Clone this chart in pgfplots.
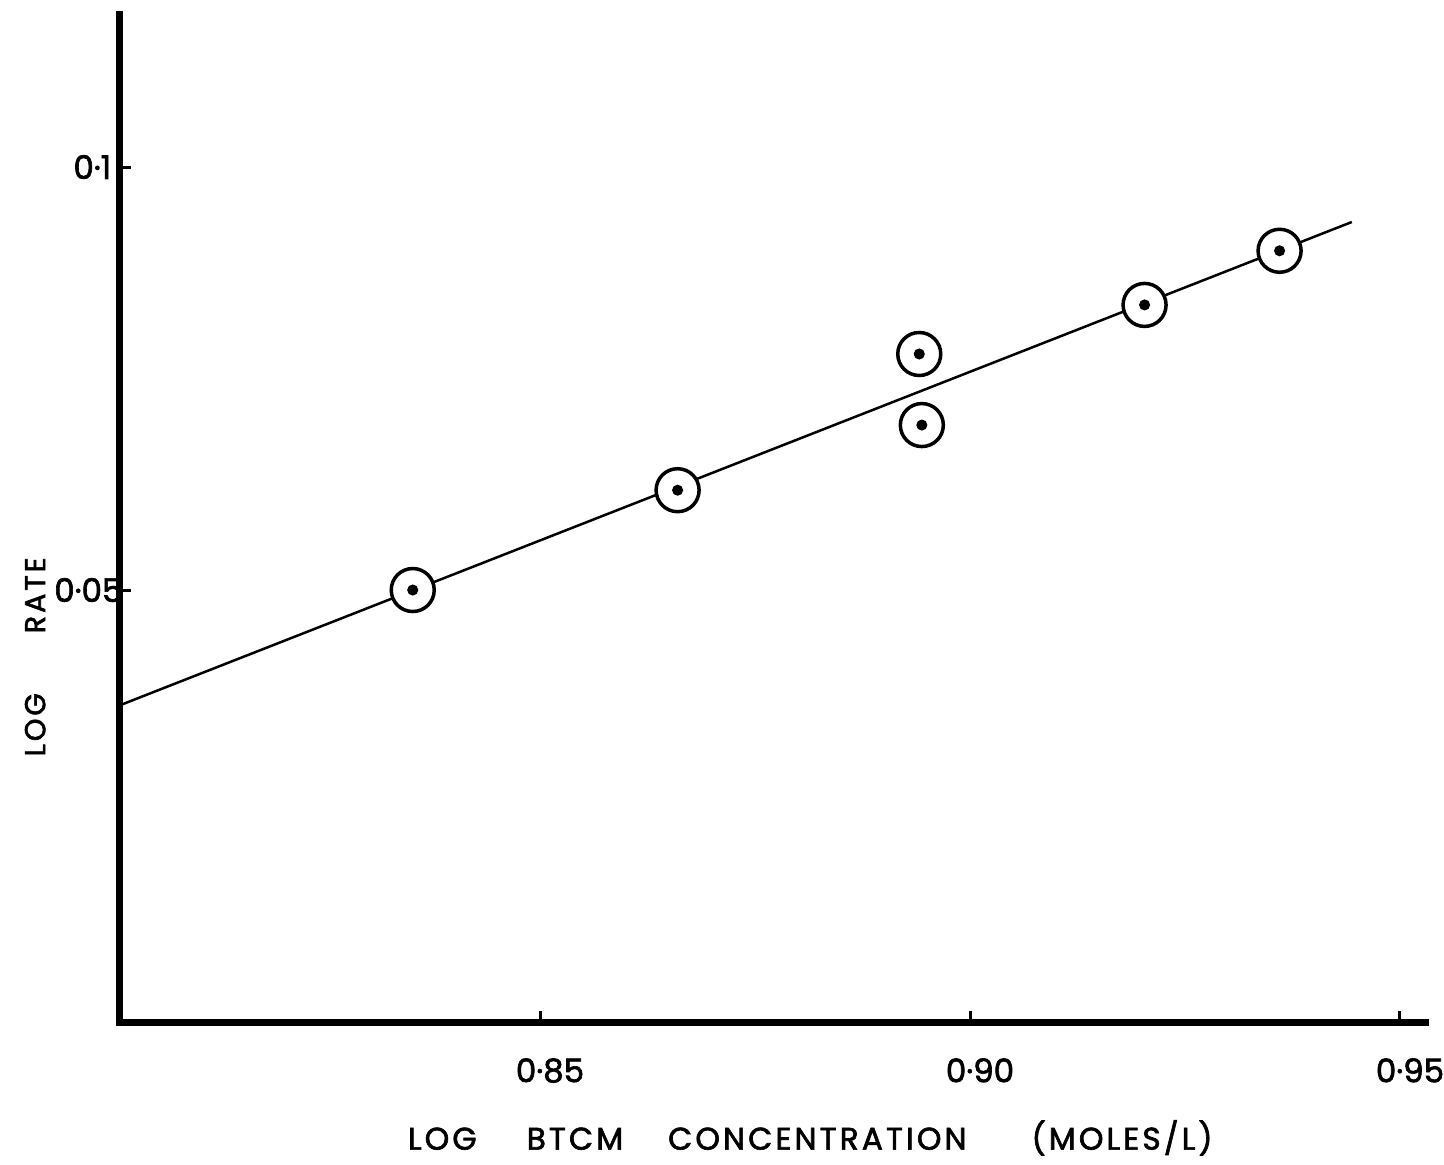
\documentclass[border=0pt]{standalone}
\usepackage{fontspec}
\setmainfont{Poppins}
\newfontfamily\spaced[LetterSpace=10,FakeBold=2]{Poppins}
\newfontfamily\tickfont[FakeBold=2]{Poppins}
\usepackage{pgfplots}
\pgfplotsset{compat=1.18}
\begin{document}
\begin{tikzpicture}
\useasboundingbox (-48pt,-56.8pt) rectangle (529.6pt,408.8pt);
\begin{axis}[
  scale only axis, width=522pt, height=402.8pt,
  xmin=0.80116, xmax=0.95291, ymin=-0.00106, ymax=0.11797,
  axis x line=bottom, axis y line=left,
  axis line style={-, line width=2.8pt, line cap=rect},
  xtick={0.85,0.90,0.95}, xticklabels={0·85, 0·90, 0·95},
  ytick={0.05,0.1}, yticklabels={0·05\hbox{\kern-1.5pt}, 0·1\hbox to 3pt{}},
  tick align=inside, major tick length=4.5pt,
  tick style={line width=1.2pt, black},
  ticklabel style={font=\tickfont\fontsize{13}{15}\selectfont},
  x tick label style={yshift=-11pt, xshift=4pt},
  y tick label style={xshift=3pt},
  xlabel={\spaced LOG\hspace{20pt}BTCM\hspace{18pt}CONCENTRATION\hspace{26pt}(MOLES/L)},
  xlabel style={at={(axis description cs:0.529,-0.115)}, anchor=center, font=\fontsize{12.5}{14}\selectfont},
  ylabel={\spaced LOG\hspace{24pt}RATE},
  ylabel style={at={(axis description cs:-0.065,0.3625)}, anchor=center, font=\fontsize{11.5}{13}\selectfont},
  clip=false,
]
\addplot[black, line width=1pt] coordinates {(0.8012,0.0364) (0.9444,0.0935)};
\addplot[only marks, mark=*, mark size=8.6pt, mark options={draw=black, fill=white, line width=1.4pt}] coordinates {
(0.8352,0.0500) (0.8660,0.0618) (0.8941,0.0779) (0.8944,0.0695) (0.9203,0.0837) (0.9360,0.0901)};
\addplot[only marks, mark=*, mark size=2pt, mark options={black}] coordinates {
(0.8352,0.0500) (0.8660,0.0618) (0.8941,0.0779) (0.8944,0.0695) (0.9203,0.0837) (0.9360,0.0901)};
\end{axis}
\end{tikzpicture}
\end{document}
